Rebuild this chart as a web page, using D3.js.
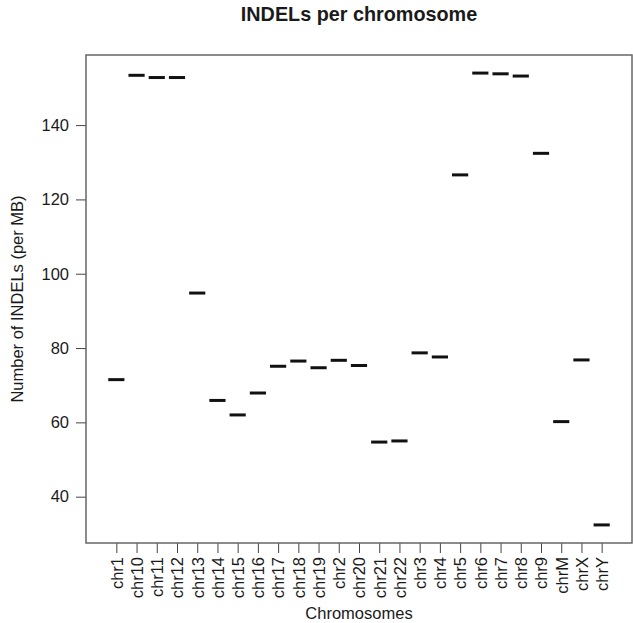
<!DOCTYPE html>
<html>
<head>
<meta charset="utf-8">
<script src="https://cdn.jsdelivr.net/npm/d3@7"></script>
<style>
  body { margin: 0; background: #fff; }
  text { font-family: "Liberation Sans", Arial, sans-serif; fill: #1a1a1a; }
</style>
</head>
<body>
<svg id="chart"></svg>
<script>
// chromosome names, in the (alphabetical) order they appear on the x axis
const chromosomes = ["chr1", "chr10", "chr11", "chr12", "chr13", "chr14", "chr15", "chr16",
    "chr17", "chr18", "chr19", "chr2", "chr20", "chr21", "chr22", "chr3", "chr4", "chr5",
    "chr6", "chr7", "chr8", "chr9", "chrM", "chrX", "chrY"];

// INDELs per MB for each chromosome
const indelsPerMb = [71.5, 153.4, 152.8, 152.8, 94.8, 65.9, 62.0, 67.9,
    75.1, 76.5, 74.7, 76.7, 75.3, 54.7, 55.0, 78.7, 77.6, 126.6,
    154.0, 153.8, 153.2, 132.4, 60.2, 76.8, 32.4];

const yTicks = [40, 60, 80, 100, 120, 140];

const width = 633, height = 623;
// plot box, like R's default par layout
const margin = {left: 86, right: 1, top: 55, bottom: 80};

const svg = d3.select("#chart")
    .attr("width", width)
    .attr("height", height);

const data = chromosomes.map((c, i) => ({chr: c, idx: i + 1, value: indelsPerMb[i]}));

// x: boxplot style, groups at 1..n, limits 0.5..n+0.5 plus R's 4% extension
const n = chromosomes.length;
const xScale = d3.scaleLinear()
    .domain([0.5 - 0.04 * n, n + 0.5 + 0.04 * n])
    .range([margin.left, width - margin.right]);

// y: data range extended by 4% on each side
const [yMin, yMax] = d3.extent(indelsPerMb);
const pad = (yMax - yMin) * 0.04;
const yScale = d3.scaleLinear()
    .domain([yMin - pad, yMax + pad])
    .range([height - margin.bottom, margin.top]);

// median bars (single value per group)
svg.append("g")
    .selectAll("line")
    .data(data)
    .join("line")
    .attr("x1", d => xScale(d.idx - 0.4))
    .attr("x2", d => xScale(d.idx + 0.4))
    .attr("y1", d => yScale(d.value))
    .attr("y2", d => yScale(d.value))
    .attr("stroke", "#111")
    .attr("stroke-width", 3);

// y axis
const yAxis = svg.append("g")
    .attr("transform", "translate(" + margin.left + ",0)")
    .call(d3.axisLeft(yScale).tickValues(yTicks).tickSize(10).tickSizeOuter(0).tickPadding(7));
yAxis.select(".domain").remove();
yAxis.selectAll(".tick line").attr("stroke", "#444");
yAxis.selectAll("text")
    .style("font-size", "16.5px")
    .attr("fill", "#1a1a1a");

// x axis with vertical labels (las = 2)
const xAxis = svg.append("g")
    .attr("transform", "translate(0," + (height - margin.bottom) + ")")
    .call(d3.axisBottom(xScale).tickValues(data.map(d => d.idx))
        .tickFormat(i => chromosomes[i - 1]).tickSize(10).tickSizeOuter(0));
xAxis.select(".domain").remove();
xAxis.selectAll(".tick line").attr("stroke", "#444");
xAxis.selectAll("text")
    .style("font-size", "16.5px")
    .attr("fill", "#1a1a1a")
    .attr("transform", "rotate(-90)")
    .attr("text-anchor", "end")
    .attr("x", -14)
    .attr("y", 0)
    .attr("dy", "0.35em");

// plot box
svg.append("rect")
    .attr("x", margin.left)
    .attr("y", margin.top)
    .attr("width", width - margin.left - margin.right)
    .attr("height", height - margin.top - margin.bottom)
    .attr("fill", "none")
    .attr("stroke", "#666")
    .attr("stroke-width", 1.5);

const plotMid = (margin.left + width - margin.right) / 2;

// title
svg.append("text")
    .attr("x", plotMid)
    .attr("y", 21)
    .attr("text-anchor", "middle")
    .style("font-size", "19.8px")
    .style("font-weight", "bold")
    .text("INDELs per chromosome");

// axis titles
svg.append("text")
    .attr("x", plotMid)
    .attr("y", 619)
    .attr("text-anchor", "middle")
    .style("font-size", "16.5px")
    .text("Chromosomes");

svg.append("text")
    .attr("transform", "translate(23," + ((margin.top + height - margin.bottom) / 2) + ") rotate(-90)")
    .attr("text-anchor", "middle")
    .style("font-size", "16.5px")
    .text("Number of INDELs (per MB)");
</script>
</body>
</html>
